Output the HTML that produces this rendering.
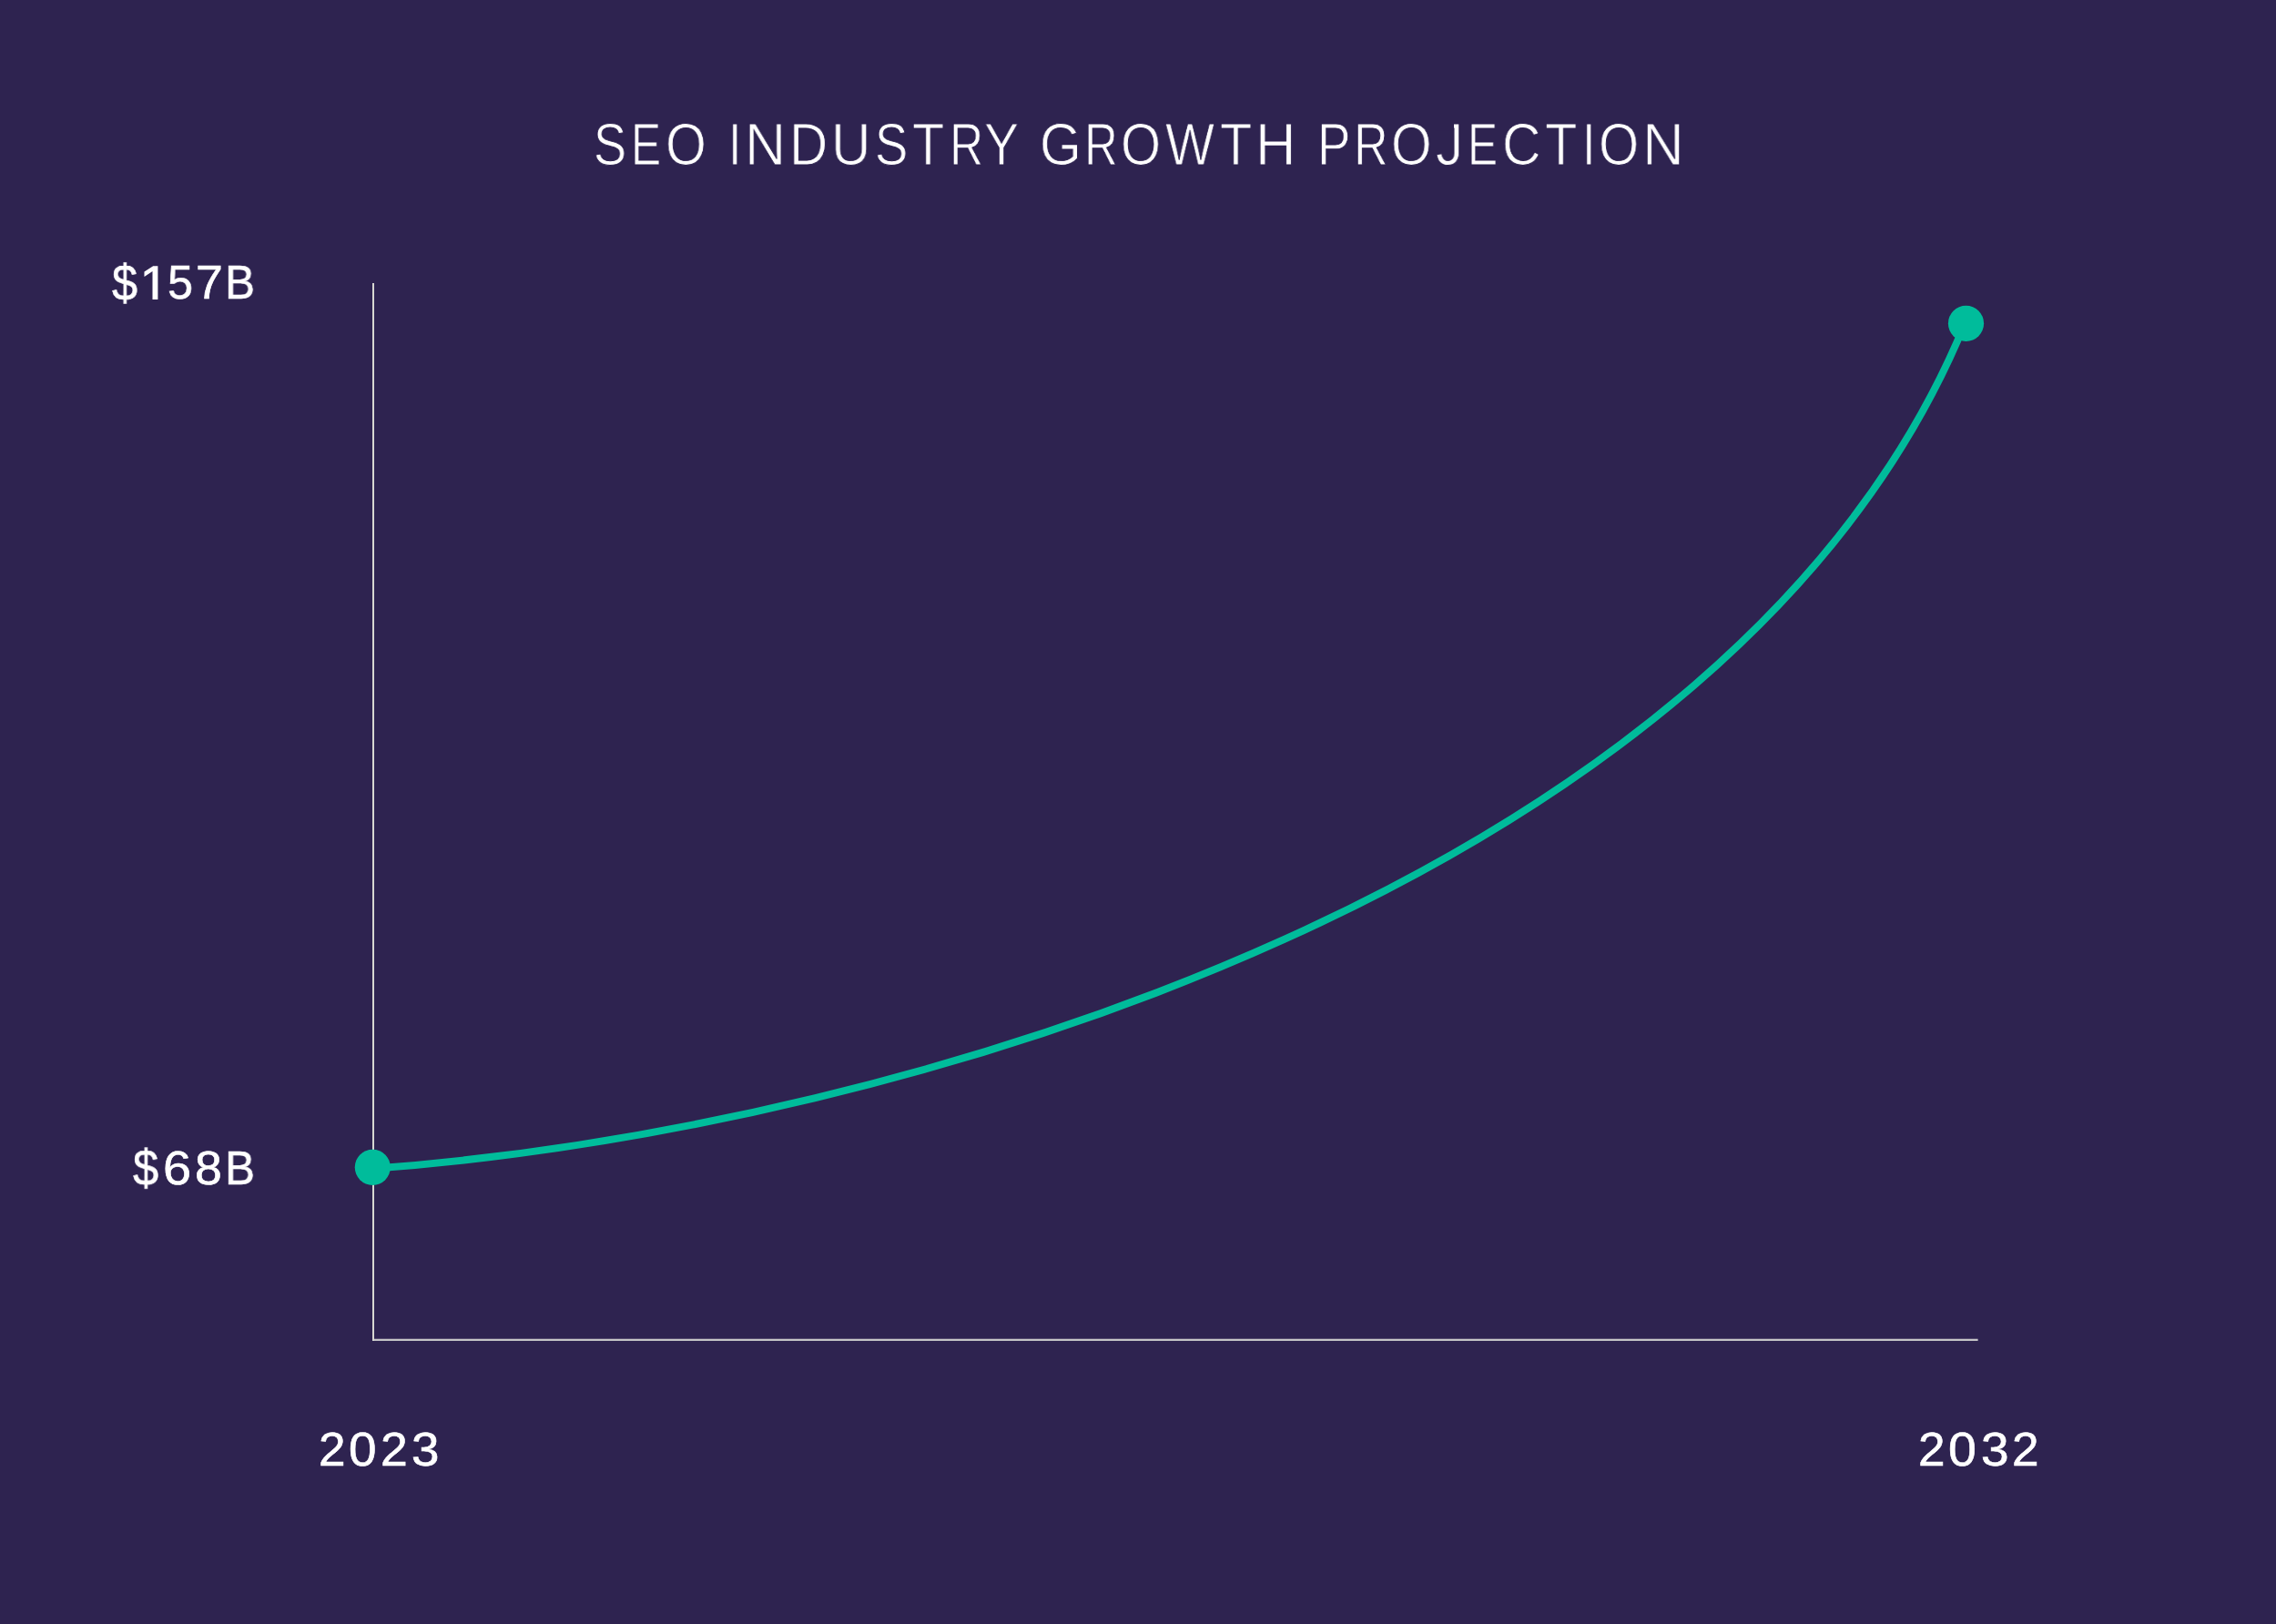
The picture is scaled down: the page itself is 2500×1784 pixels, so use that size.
<!DOCTYPE html>
<html><head><meta charset="utf-8">
<style>
html,body{margin:0;padding:0;}
body{width:2500px;height:1784px;background:#2e2350;overflow:hidden;position:relative;font-family:"Liberation Sans",sans-serif;color:#fff;}
span{will-change:transform;position:absolute;white-space:nowrap;line-height:1;transform-origin:0 0;display:block;}
.tt{font-size:64.7px;top:126.83px;-webkit-text-stroke:0.9px #2e2350;}
.la{font-size:52.5px;-webkit-text-stroke:0.6px #fff;}
.y1{top:284.39px;}
.y2{top:1256.56px;}
.xx{top:1565.56px;}
svg{position:absolute;left:0;top:0;}
</style></head><body>
<span class="tt" style="left:652.17px;transform:scaleX(0.8364)">S</span>
<span class="tt" style="left:693.30px;transform:scaleX(0.7639)">E</span>
<span class="tt" style="left:730.97px;transform:scaleX(0.8899)">O</span>
<span class="tt" style="left:799.66px;transform:scaleX(0.8000)">I</span>
<span class="tt" style="left:817.55px;transform:scaleX(0.9648)">N</span>
<span class="tt" style="left:866.60px;transform:scaleX(0.9032)">D</span>
<span class="tt" style="left:912.63px;transform:scaleX(0.9319)">U</span>
<span class="tt" style="left:960.86px;transform:scaleX(0.8391)">S</span>
<span class="tt" style="left:1002.01px;transform:scaleX(0.8884)">T</span>
<span class="tt" style="left:1042.53px;transform:scaleX(0.7943)">R</span>
<span class="tt" style="left:1081.35px;transform:scaleX(0.8830)">Y</span>
<span class="tt" style="left:1142.43px;transform:scaleX(0.9096)">G</span>
<span class="tt" style="left:1191.47px;transform:scaleX(0.7863)">R</span>
<span class="tt" style="left:1231.32px;transform:scaleX(0.8760)">O</span>
<span class="tt" style="left:1279.95px;transform:scaleX(0.8850)">W</span>
<span class="tt" style="left:1339.51px;transform:scaleX(0.8884)">T</span>
<span class="tt" style="left:1379.14px;transform:scaleX(0.9478)">H</span>
<span class="tt" style="left:1446.94px;transform:scaleX(0.8439)">P</span>
<span class="tt" style="left:1487.47px;transform:scaleX(0.8050)">R</span>
<span class="tt" style="left:1527.79px;transform:scaleX(0.8852)">O</span>
<span class="tt" style="left:1577.24px;transform:scaleX(0.9322)">J</span>
<span class="tt" style="left:1612.30px;transform:scaleX(0.7639)">E</span>
<span class="tt" style="left:1649.71px;transform:scaleX(0.9083)">C</span>
<span class="tt" style="left:1697.30px;transform:scaleX(0.8940)">T</span>
<span class="tt" style="left:1738.01px;transform:scaleX(0.8000)">I</span>
<span class="tt" style="left:1756.31px;transform:scaleX(0.8783)">O</span>
<span class="tt" style="left:1804.36px;transform:scaleX(0.9790)">N</span>
<span class="la y1" style="left:123.45px;transform-origin:0 26.83px;transform:translateY(1.1px) scale(0.9581,1.072)">&#36;</span>
<span class="la y1" style="left:183.88px;transform:scaleX(0.9572)">5</span>
<span class="la y1" style="left:214.96px;transform:scaleX(1.0218)">7</span>
<span class="la y1" style="left:247.32px;transform:scaleX(0.9425)">B</span>
<span class="la y2" style="left:146.05px;transform-origin:0 26.83px;transform:translateY(0.4px) scale(0.9617,1.072)">&#36;</span>
<span class="la y2" style="left:178.88px;transform:scaleX(1.0635)">6</span>
<span class="la y2" style="left:213.77px;transform:scaleX(1.0224)">8</span>
<span class="la y2" style="left:247.32px;transform:scaleX(0.9425)">B</span>
<span class="la xx" style="left:350.13px;transform:scaleX(1.0115)">2</span>
<span class="la xx" style="left:383.37px;transform:scaleX(1.0468)">0</span>
<span class="la xx" style="left:418.01px;transform:scaleX(1.0197)">2</span>
<span class="la xx" style="left:452.23px;transform:scaleX(1.0435)">3</span>
<span class="la xx" style="left:2106.93px;transform:scaleX(1.0115)">2</span>
<span class="la xx" style="left:2140.15px;transform:scaleX(1.0585)">0</span>
<span class="la xx" style="left:2175.62px;transform:scaleX(1.0474)">3</span>
<span class="la xx" style="left:2209.73px;transform:scaleX(1.0115)">2</span>
<svg width="2500" height="1784" viewBox="0 0 2500 1784">
<rect x="1576" y="134" width="21.0" height="9.5" fill="#2e2350"/>
<path d="M411 1471.85H2172.6" fill="none" stroke="#c5c4c7" stroke-width="2.3"/>
<path d="M410 311V1473" fill="none" stroke="#d7d7d2" stroke-width="2"/>
<path d="M409.1 1283.8C998.1 1239.9 1907.8 965.6 2158.3 355.3" fill="none" stroke="#00bc9b" stroke-width="8"/>
<path d="M168.2 292.3H173.4V329H167.5V298L158.5 303.95V298.45Z" fill="#fff"/>
<circle cx="409.3" cy="1282.35" r="19.55" fill="#00bc9b"/>
<circle cx="2159.5" cy="355.35" r="19.6" fill="#00bc9b"/>
</svg>
</body></html>
